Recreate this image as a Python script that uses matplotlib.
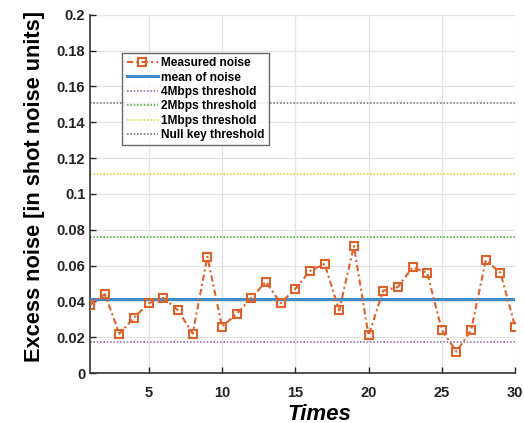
import matplotlib.pyplot as plt
from matplotlib.ticker import FuncFormatter

plt.rcParams["font.family"] = ["Liberation Sans", "DejaVu Sans"]

times = list(range(1, 31))
noise = [0.038, 0.044, 0.022, 0.031, 0.039, 0.042, 0.035, 0.022, 0.065, 0.026,
         0.033, 0.042, 0.051, 0.039, 0.047, 0.057, 0.061, 0.035, 0.071, 0.021,
         0.046, 0.048, 0.059, 0.056, 0.024, 0.012, 0.024, 0.063, 0.056, 0.026]
mean_noise = 0.0412
thr_4mbps = 0.0175
thr_2mbps = 0.076
thr_1mbps = 0.111
thr_null = 0.151

fig = plt.figure(figsize=(5.24, 4.23), dpi=100)
ax = fig.add_axes([0.172, 0.118, 0.811, 0.847])

ax.plot(times, noise, color="#E0602A", ls=(0, (3, 1.5, 1, 1.5)), lw=1.5, marker="s", ms=6,
        mfc="none", mew=1.5, label="Measured noise", zorder=4)
ax.axhline(mean_noise, color="#3C8DCB", lw=2.2, label="mean of noise", zorder=3)
ax.axhline(thr_4mbps, color="#9A7AA6", ls=(0, (1, 1)), lw=1.2, label="4Mbps threshold")
ax.axhline(thr_2mbps, color="#5DAA45", ls=(0, (1, 1)), lw=1.2, label="2Mbps threshold")
ax.axhline(thr_1mbps, color="#D8D840", ls=(0, (1, 1)), lw=1.2, label="1Mbps threshold")
ax.axhline(thr_null, color="#777777", ls=(0, (1, 1)), lw=1.2, label="Null key threshold")

ax.set_xlim(1, 30)
ax.set_ylim(0, 0.2)
ax.set_xticks([5, 10, 15, 20, 25, 30])
ax.set_yticks([i * 0.02 for i in range(11)])
ax.yaxis.set_major_formatter(FuncFormatter(lambda v, p: f"{v:.2f}".rstrip("0").rstrip(".")))
ax.grid(True, color="#E3E3E3", lw=0.9)
ax.set_axisbelow(True)
for s in ("top", "right"):
    ax.spines[s].set_visible(False)
for s in ("left", "bottom"):
    ax.spines[s].set_color("#333333")
    ax.spines[s].set_linewidth(1.2)
ax.tick_params(direction="in", length=4, width=1, colors="#222222", labelsize=10.5)
ax.tick_params(axis="x", pad=9)
for lab in ax.get_xticklabels() + ax.get_yticklabels():
    lab.set_fontweight("bold")

ax.set_xlabel("Times", fontsize=16, fontweight="bold", fontstyle="italic")
ax.xaxis.set_label_coords(0.54, -0.085)
ax.set_ylabel("Excess noise [in shot noise units]", fontsize=15.7, fontweight="bold")
ax.yaxis.set_label_coords(-0.106, 0.522)

leg = ax.legend(loc="upper left", bbox_to_anchor=(0.062, 0.91), prop={"weight": "bold", "size": 8.6},
                frameon=True, fancybox=False, handlelength=2.6, borderpad=0.35,
                labelspacing=0.2, handletextpad=0.3)
leg.get_frame().set_edgecolor("#444444")
leg.get_frame().set_linewidth(1.0)

fig.savefig("out.png", dpi=100)
